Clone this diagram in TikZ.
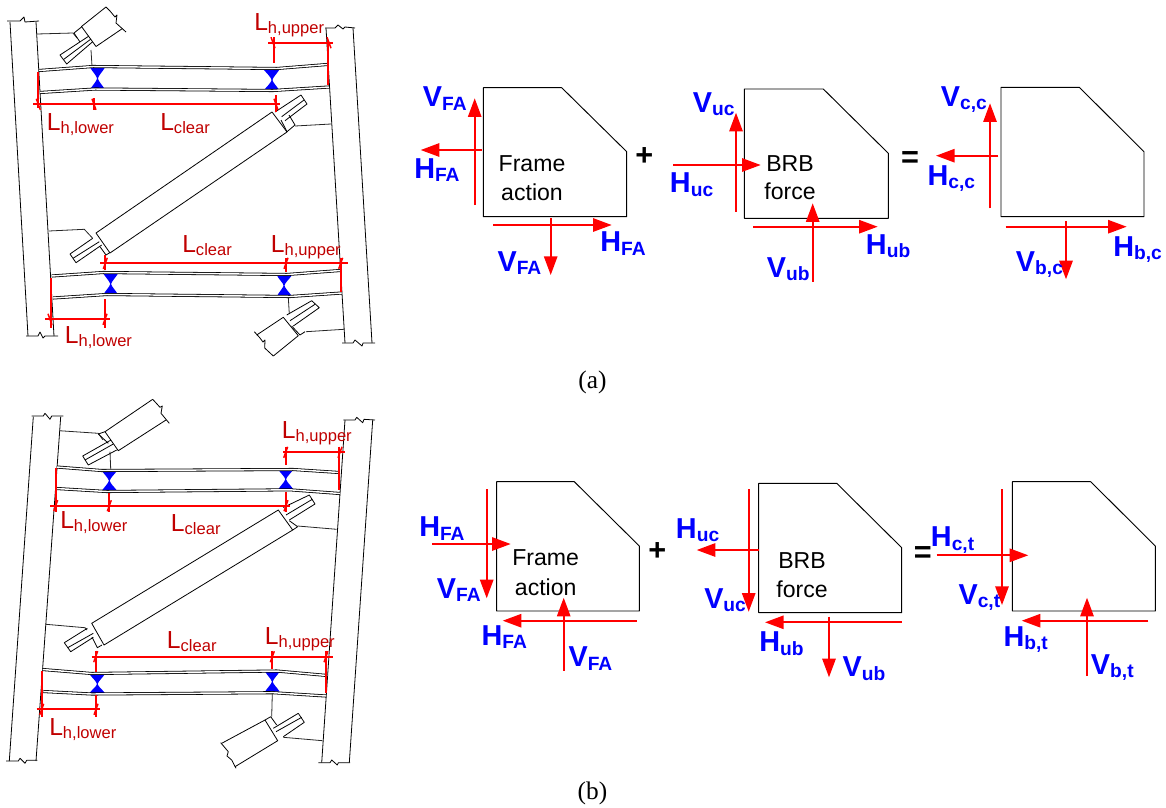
\documentclass[tikz,border=0pt]{standalone}
\usepackage{fontspec}
\setmainfont{Liberation Sans}
\newfontfamily\capfont{Liberation Serif}
\usetikzlibrary{arrows.meta}
\definecolor{dimred}{HTML}{C00000}
\tikzset{
  steel/.style={draw=black, line width=0.6pt, line join=round},
  flange/.style={draw=black, line width=0.6pt, double=white, double distance=1.1pt},
  gusset/.style={draw=black!85, line width=0.6pt, line join=round},
  dimline/.style={draw=red, line width=1.5pt},
  dimtickline/.style={draw=red, line width=1.1pt},
  force/.style={draw=red, line width=1.4pt, -{Triangle[length=14pt, width=10pt]}},
  forcetext/.style={text=blue, font=\bfseries\fontsize{21.6}{21.6}\selectfont, inner sep=0pt, anchor=base west},
  lentext/.style={text=dimred, font=\fontsize{18.5}{18.5}\selectfont, inner sep=0pt, anchor=base west},
  boxtext/.style={text=black, font=\fontsize{17.3}{17.3}\selectfont, inner sep=0pt, anchor=base},
  signtext/.style={text=black, font=\bfseries\fontsize{23}{23}\selectfont, inner sep=0pt},
  captext/.style={text=black, font=\capfont\fontsize{19}{19}\selectfont, inner sep=0pt, anchor=base}
}
\newcommand{\fsub}[2]{#1\raisebox{-2.6pt}{\fontsize{14.4}{14.4}\selectfont #2}}
\newcommand{\lsub}[1]{L\raisebox{-2.3pt}{\fontsize{12.4}{12.4}\selectfont #1}}
% link: xleft, xright, xwaist, ytop, ywaist, ybottom
\newcommand{\dogbone}[6]{
  \fill[blue] (#1,#4) -- (#2,#4) .. controls ({#3+5},{#4+4}) and ({#3+1.2},{#5-3}) .. ({#3+0.4},#5)
    .. controls ({#3+1.2},{#5+3}) and ({#3+5},{#6-4}) .. (#2,#6) -- (#1,#6)
    .. controls ({#3-5},{#6-4}) and ({#3-1.2},{#5+3}) .. ({#3-0.4},#5)
    .. controls ({#3-1.2},{#5-3}) and ({#3-5},{#4+4}) .. (#1,#4) -- cycle;
}
% slanted mark: x, y, lean
\newcommand{\dimtick}[3]{\draw[dimtickline] ({#1+#3*2},{#2-5.5}) -- ({#1-#3*2},{#2+5.5});}
\begin{document}
\begin{tikzpicture}[x=0.75pt, y=-0.75pt]
  \useasboundingbox (0,0) rectangle (1166,807);

  % (a) frame
  \draw[steel] (10,22) -- (28,336);
  \draw[steel] (36,22) -- (54,336);
  \draw[steel] (7,21) -- (20,21) -- (24,17) -- (25,22) -- (39,21);
  \draw[steel] (26,336) -- (38,336) -- (40,332) -- (43,338) -- (45,336) -- (58,336);
  \draw[steel] (326,28) -- (345,343);
  \draw[steel] (353,28) -- (372,343);
  \draw[steel] (325,28) -- (335,28) -- (338,25) -- (343,29) -- (345,27) -- (355,28);
  \draw[steel] (342,343) -- (353,343) -- (355,340) -- (362,346) -- (363,343) -- (375,343);

  \dogbone{90}{105}{97.5}{67.5}{78.5}{89.5}
  \dogbone{263.5}{279.5}{272}{69.5}{80}{90.5}
  \dogbone{103.3}{118}{110.7}{273.5}{284}{294.5}
  \dogbone{277}{291.7}{284}{275.5}{285.5}{296}
  \draw[flange] (39,70.5) -- (93,66.5) -- (277,68.5) -- (327,64.5);
  \draw[flange] (40,92.5) -- (95,89) -- (273,90.5) -- (329,87);
  \draw[flange] (51.7,276) -- (103,272.5) -- (287,274.5) -- (340,270.5);
  \draw[flange] (53,298) -- (106.7,294.5) -- (290,296.5) -- (341.7,293);

  % (a) upper stub
  \draw[gusset] (37,34) -- (73,33) -- (77,38);
  \draw[gusset] (91,50) -- (92,66);
  \draw[steel] (106,7) -- (81.5,26.5) -- (96,46.5) -- (122.5,28.5);
  \draw[steel] (106,7) -- (110,11) -- (115,17) -- (117,15) -- (116,23) -- (126,32);
  \draw[steel] (74,33) -- (81.5,27);
  \draw[steel] (74,33) -- (80,42);
  \draw[steel] (89,36) -- (60,55) -- (66.7,64) -- (92.7,41.7);
  \draw[steel] (63.5,59.5) -- (91,39);

  % (a) main brace
  \draw[steel] (272,112) -- (96,233) -- (110,253) -- (287,132) -- cycle;
  \draw[steel] (275,112) -- (301,95) -- (307,104) -- (285,120.7);
  \draw[steel] (281.7,116.7) -- (304,100);
  \draw[steel] (281,120) -- (287,131.7);
  \draw[steel] (287,131.7) -- (295,125) -- (289,115);
  \draw[gusset] (295,126) -- (331,124);
  \draw[steel] (92.7,238.3) -- (70,254) -- (76,262.7) -- (101.7,245);
  \draw[steel] (73,258.3) -- (99.3,241.7);
  \draw[steel] (100,246.7) -- (106,255) -- (110,252.5);
  \draw[gusset] (49,231) -- (84.3,229.3) -- (92.7,238.3);

  % (a) lower stub
  \draw[gusset] (288.3,297.3) -- (289.3,314);
  \draw[gusset] (306,331.7) -- (344,329.3);
  \draw[steel] (256.7,335) -- (283.3,317.3) -- (298.3,335.7) -- (273.3,356);
  \draw[steel] (254.3,331.7) -- (260,338) -- (263,342) -- (265,340) -- (264.7,348) -- (273.3,356);
  \draw[steel] (286.7,315) -- (311.7,300.7) -- (319.3,307.7) -- (293.3,326);
  \draw[steel] (290,320.7) -- (315,304.3);
  \draw[steel] (291.7,326) -- (300,335) -- (305,331.7);

  % (a) lengths
  \draw[dimline] (268.3,42.7) -- (333.3,42.7);
  \draw[dimline] (328,40) -- (328,85);
  \draw[dimline] (274,37) -- (274,63);
  \dimtick{273}{42.7}{-1}
  \dimtick{329}{42.7}{-1}
  \draw[dimline] (33.3,104.3) -- (280,104.3);
  \draw[dimline] (38.3,71.7) -- (38.3,108);
  \draw[dimline] (94,98) -- (94,110);
  \draw[dimline] (276,95) -- (276,112);
  \dimtick{38.3}{104.3}{-1}
  \dimtick{94}{104.3}{-1}
  \dimtick{276}{104.3}{-1}
  \draw[dimline] (100,263.3) -- (348.3,263.3);
  \draw[dimline] (105.3,255) -- (105.3,270);
  \draw[dimline] (286,258.3) -- (286,272);
  \draw[dimline] (340.7,258.3) -- (340.7,291.7);
  \dimtick{105.3}{263.3}{1}
  \dimtick{286}{263.3}{1}
  \dimtick{340.7}{263.3}{1}
  \draw[dimline] (45,319.3) -- (110,319.3);
  \draw[dimline] (51,278.3) -- (51,328.3);
  \draw[dimline] (105,299.3) -- (105,328.3);
  \dimtick{50}{319.3}{-1}
  \dimtick{105}{319.3}{1}
  \node[lentext] (lupperAtop) at (254,30) {\lsub{h,upper}};
  \node[lentext] (llowerAtop) at (46.7,130) {\lsub{h,lower}};
  \node[lentext] (lclearAtop) at (160,130) {\lsub{clear}};
  \node[lentext] (lclearAbot) at (182,252.3) {\lsub{clear}};
  \node[lentext] (lupperAbot) at (270.7,252.3) {\lsub{h,upper}};
  \node[lentext] (llowerAbot) at (64.7,343.3) {\lsub{h,lower}};

  % (b) frame
  \draw[steel] (33.3,416.7) -- (9.3,761);
  \draw[steel] (60.7,416.7) -- (36,761);
  \draw[steel] (31.7,416) -- (43.3,416) -- (45,413.3) -- (50,419.3) -- (51.7,416) -- (63.3,416);
  \draw[steel] (6,761) -- (18.3,761) -- (20,758.3) -- (25,763.3) -- (26.7,760.3) -- (37.3,760.3);
  \draw[steel] (345,420) -- (321.7,762.7);
  \draw[steel] (372.7,420) -- (349.3,762.7);
  \draw[steel] (343.3,420) -- (355,420) -- (356.7,417.3) -- (362.7,422.7) -- (364,419.3) -- (375,420);
  \draw[steel] (318.3,762.7) -- (330,762.7) -- (331.7,760) -- (337.3,765) -- (338.3,762.7) -- (350,762.7);

  \dogbone{101.7}{117.3}{109.3}{470.5}{480.7}{491}
  \dogbone{278.3}{293.3}{285.7}{469.5}{479.3}{489.3}
  \dogbone{89.3}{105}{97.3}{674}{684}{693.3}
  \dogbone{265}{279.7}{272.3}{671.5}{681.7}{691.7}
  \draw[flange] (56.7,467) -- (101.7,470.5) -- (293.3,469.5) -- (339.3,472.5);
  \draw[flange] (56.7,488.5) -- (106.7,491.5) -- (290,489.8) -- (340,493.5);
  \draw[flange] (42.7,669.5) -- (91.7,673.5) -- (276.7,671) -- (327.3,675.5);
  \draw[flange] (43.3,691.5) -- (91.7,694) -- (273.3,692.7) -- (326,696);

  % (b) upper stub
  \draw[gusset] (59.3,430.7) -- (98.3,433.3) -- (103,440);
  \draw[gusset] (110,451.7) -- (110.7,469);
  \draw[steel] (152.7,399.3) -- (105,431.7) -- (118.3,450.7) -- (166,420);
  \draw[steel] (152.7,399.3) -- (160,407.3) -- (162.3,406) -- (161,413.3) -- (169.3,423.3);
  \draw[steel] (98.3,434) -- (105,431.7);
  \draw[steel] (98.3,434) -- (108.3,443.3);
  \draw[steel] (111,440) -- (82.7,456) -- (88.3,465) -- (116.7,450);
  \draw[steel] (85,460) -- (113.3,444);

  % (b) main brace
  \draw[steel] (278.3,510) -- (91.7,623.3) -- (104,645) -- (292.7,530) -- cycle;
  \draw[steel] (283.3,507.5) -- (309.3,495) -- (315,504) -- (289.3,520);
  \draw[steel] (286,515) -- (312.3,499.3);
  \draw[steel] (289.3,520.7) -- (297.7,526.7) -- (292.7,530);
  \draw[gusset] (297.7,526) -- (336.7,529.3);
  \draw[steel] (87.3,628.3) -- (64.3,642.7) -- (70.7,651.7) -- (93.3,637.3);
  \draw[steel] (67.7,647.7) -- (93.3,633.3);
  \draw[steel] (92,637) -- (97.3,647.7) -- (102,645);
  \draw[gusset] (46,624.3) -- (85,627.7) -- (87,630);

  % (b) lower stub
  \draw[gusset] (272.3,693.3) -- (271.7,716.7);
  \draw[gusset] (283.3,737.3) -- (322.7,740.7);
  \draw[steel] (221.7,743.3) -- (265,720) -- (277.7,740.7) -- (235,766.7);
  \draw[steel] (220.7,742.7) -- (228.3,751.7) -- (227,756) -- (231.7,760) -- (236,768.3);
  \draw[steel] (273.3,728.3) -- (298.3,713.3) -- (304.3,722.3) -- (283.3,736.7);
  \draw[steel] (276,731.7) -- (301.7,717.3);
  \draw[steel] (265,720) -- (270.7,716.7) -- (276.7,725);

  % (b) lengths
  \draw[dimline] (283.3,452.3) -- (345,452.3);
  \draw[dimline] (285.7,446.7) -- (285.7,465);
  \draw[dimline] (339.3,446.7) -- (339.3,490);
  \dimtick{285.7}{452.3}{1}
  \dimtick{340}{452.3}{1}
  \draw[dimline] (50,505.7) -- (290,505.7);
  \draw[dimline] (55.7,468.3) -- (55.7,511.7);
  \draw[dimline] (109.3,493.3) -- (109.3,511.7);
  \draw[dimline] (286,491.7) -- (286,511.7);
  \dimtick{55.7}{505.7}{1}
  \dimtick{109.3}{505.7}{1}
  \dimtick{286}{505.7}{1}
  \draw[dimline] (91.7,656.7) -- (332.7,656.7);
  \draw[dimline] (95.7,650.7) -- (95.7,671.7);
  \draw[dimline] (272.3,650.7) -- (272.3,669.3);
  \draw[dimline] (325.7,650.7) -- (325.7,693.3);
  \dimtick{95.7}{656.7}{1}
  \dimtick{272.3}{656.7}{1}
  \dimtick{326}{656.7}{1}
  \draw[dimline] (36.7,709.3) -- (100,709.3);
  \draw[dimline] (41.7,670.7) -- (41.7,717.3);
  \draw[dimline] (96,695) -- (96,717.3);
  \dimtick{41.7}{709.3}{1}
  \dimtick{96}{709.3}{1}
  \node[lentext] (lupperBtop) at (281.7,438.3) {\lsub{h,upper}};
  \node[lentext] (llowerBtop) at (60,528.3) {\lsub{h,lower}};
  \node[lentext] (lclearBtop) at (170.7,531.7) {\lsub{clear}};
  \node[lentext] (lclearBbot) at (166.7,648.3) {\lsub{clear}};
  \node[lentext] (lupperBbot) at (264.7,644.3) {\lsub{h,upper}};
  \node[lentext] (llowerBbot) at (49,735) {\lsub{h,lower}};

  % (a) free bodies
  \draw[steel, line width=0.7pt] (483.3,87.7) -- (561.7,87.7) -- (626.7,151.7) -- (626.7,216.7) -- (483.3,216.7) -- cycle;
  \draw[steel, line width=0.7pt] (744.3,89) -- (823.3,89) -- (888.3,153.3) -- (888.3,218.3) -- (744.3,218.3) -- cycle;
  \draw[steel, line width=0.7pt] (1001,87.3) -- (1079.3,87.3) -- (1144,151.7) -- (1144,216.7) -- (1001,216.7) -- cycle;
  \draw[force] (474.7,205) -- (474.7,98.3);
  \draw[force] (481.7,150) -- (420.7,150);
  \draw[force] (493.3,225) -- (611.7,225);
  \draw[force] (550.7,218.3) -- (550.7,275);
  \draw[force] (736,211.7) -- (736,112.7);
  \draw[force] (673.3,165) -- (760.7,165);
  \draw[force] (753.3,226.7) -- (877.7,226.7);
  \draw[force] (812.7,281.7) -- (812.7,203.3);
  \draw[force] (990,208.3) -- (990,103.3);
  \draw[force] (998.3,155.7) -- (936,155.7);
  \draw[force] (1005.7,226.7) -- (1126.7,226.7);
  \draw[force] (1066,221) -- (1066,279.3);
  \node[forcetext] (vfaAtop) at (422.7,106.7) {\fsub{V}{FA}};
  \node[forcetext] (hfaAtop) at (414,178.3) {\fsub{H}{FA}};
  \node[forcetext] (hfaAbot) at (600,251.7) {\fsub{H}{FA}};
  \node[forcetext] (vfaAbot) at (497.3,271) {\fsub{V}{FA}};
  \node[forcetext] (vucA) at (692.7,112.3) {\fsub{V}{uc}};
  \node[forcetext] (hucA) at (669.7,192.7) {\fsub{H}{uc}};
  \node[forcetext] (hubA) at (865.7,254) {\fsub{H}{ub}};
  \node[forcetext] (vubA) at (766.7,277) {\fsub{V}{ub}};
  \node[forcetext] (vccA) at (940.7,106) {\fsub{V}{c,c}};
  \node[forcetext] (hccA) at (927.3,185) {\fsub{H}{c,c}};
  \node[forcetext] (hbcA) at (1113,256) {\fsub{H}{b,c}};
  \node[forcetext] (vbcA) at (1015.7,271) {\fsub{V}{b,c}};
  \node[boxtext] (frameA) at (532,171.7) {Frame};
  \node[boxtext] (actionA) at (532,200.7) {action};
  \node[boxtext] (brbA) at (790,171) {BRB};
  \node[boxtext] (forceA) at (790,199) {force};
  \node[signtext] (plusA) at (644.3,156.7) {+};
  \node[signtext] (equalA) at (910,159.3) {=};
  \node[captext] (capA) at (592.5,388) {(a)};

  % (b) free bodies
  \draw[steel, line width=0.7pt] (496.7,481.7) -- (574.3,481.7) -- (639.3,546) -- (639.3,611) -- (496.7,611) -- cycle;
  \draw[steel, line width=0.7pt] (758.7,483.3) -- (836.7,483.3) -- (901.7,547.7) -- (901.7,612.7) -- (758.7,612.7) -- cycle;
  \draw[steel, line width=0.7pt] (1012.3,481.7) -- (1090.7,481.7) -- (1155.3,546) -- (1155.3,611) -- (1012.3,611) -- cycle;
  \draw[force] (486.7,489) -- (486.7,598.3);
  \draw[force] (432.3,544) -- (510.7,544);
  \draw[force] (636.7,620.7) -- (502.7,620.7);
  \draw[force] (563.7,670.7) -- (563.7,597.7);
  \draw[force] (748.7,489) -- (748.7,611.7);
  \draw[force] (758.7,550) -- (696.7,550);
  \draw[force] (901.7,622.3) -- (765,622.3);
  \draw[force] (829,616.7) -- (829,677.3);
  \draw[force] (1002,489) -- (1002,605);
  \draw[force] (936.7,555.3) -- (1028.3,555.3);
  \draw[force] (1148.3,620.7) -- (1021.7,620.7);
  \draw[force] (1087,676) -- (1087,597.7);
  \node[forcetext] (hfaBtop) at (419,536.7) {\fsub{H}{FA}};
  \node[forcetext] (vfaBtop) at (436.7,598.3) {\fsub{V}{FA}};
  \node[forcetext] (hfaBbot) at (481.3,645) {\fsub{H}{FA}};
  \node[forcetext] (vfaBbot) at (568.3,666.7) {\fsub{V}{FA}};
  \node[forcetext] (hucB) at (675.7,538.3) {\fsub{H}{uc}};
  \node[forcetext] (vucB) at (704,608.3) {\fsub{V}{uc}};
  \node[forcetext] (hubB) at (759,651.7) {\fsub{H}{ub}};
  \node[forcetext] (vubB) at (842.3,676.7) {\fsub{V}{ub}};
  \node[forcetext] (hctB) at (930.7,546.7) {\fsub{H}{c,t}};
  \node[forcetext] (vctB) at (958.3,604.3) {\fsub{V}{c,t}};
  \node[forcetext] (hbtB) at (1003.3,646) {\fsub{H}{b,t}};
  \node[forcetext] (vbtB) at (1090.7,674) {\fsub{V}{b,t}};
  \node[boxtext] (frameB) at (545.7,565.7) {Frame};
  \node[boxtext] (actionB) at (545.7,595) {action};
  \node[boxtext] (brbB) at (802,568.3) {BRB};
  \node[boxtext] (forceB) at (802,597.7) {force};
  \node[signtext] (plusB) at (657.3,551.7) {+};
  \node[signtext] (equalB) at (922.7,555) {=};
  \node[captext] (capB) at (592.5,799) {(b)};
\end{tikzpicture}
\end{document}
